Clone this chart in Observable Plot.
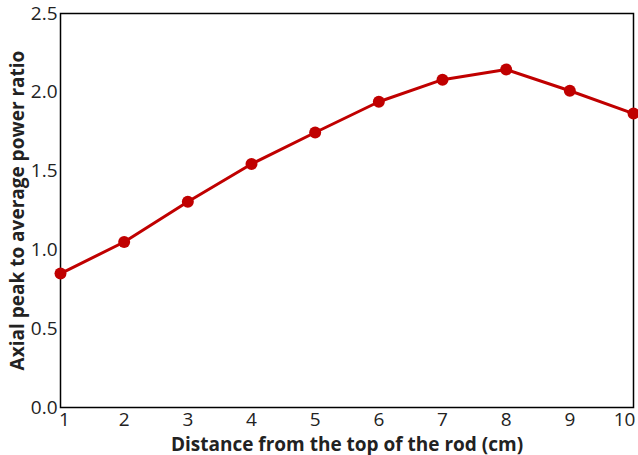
<!DOCTYPE html>
<html><head><meta charset="utf-8">
<script src="https://cdn.jsdelivr.net/npm/d3@7"></script>
<script src="https://cdn.jsdelivr.net/npm/@observablehq/plot@0.6"></script>
<style>
body{margin:0;background:#fff;}
svg{font-family:"Open Sans",sans-serif;}
</style></head><body>
<div id="chart"></div>
<script>
const distance = [1,2,3,4,5,6,7,8,9,10];
const ratio = [0.85,1.05,1.305,1.545,1.745,1.94,2.08,2.145,2.01,1.865];
const yTicks = [0,0.5,1.0,1.5,2.0,2.5];
const xTicks = [1,2,3,4,5,6,7,8,9,10];
const data = distance.map((d,i)=>({d, r: ratio[i]}));
const color = "#c00000";
const chart = Plot.plot({
  width: 638, height: 455,
  marginLeft: 60, marginRight: 5, marginTop: 13, marginBottom: 48,
  style: {fontSize: "19px", fontFamily: "'Open Sans', sans-serif", color: "#222", background: "#fff"},
  x: {domain: [1,10], ticks: xTicks, tickSize: 0, tickPadding: 5, tickFormat: d=>String(d),
      label: "Distance from the top of the rod (cm)", labelAnchor: "center", labelArrow: "none", labelOffset: 43},
  y: {domain: [0,2.5], ticks: yTicks, tickSize: 0, tickPadding: 3, tickFormat: d3.format(".1f"),
      label: "Axial peak to average power ratio", labelAnchor: "center", labelArrow: "none", labelOffset: 50},
  marks: [
    Plot.frame({stroke: "#000", strokeWidth: 1.5}),
    Plot.line(data, {x: "d", y: "r", stroke: color, strokeWidth: 3}),
    Plot.dot(data, {x: "d", y: "r", fill: color, r: 6})
  ]
});
d3.select(chart).selectAll("[aria-label$='axis label'] text").style("font-weight","bold").style("font-size","19px");
d3.select(chart).selectAll("[aria-label='x-axis tick label'] text").filter(function(){ return this.textContent === "10"; }).attr("dx", -9);
d3.select(chart).selectAll("[aria-label='x-axis tick label'] text").filter(function(){ return this.textContent === "1"; }).attr("dx", 4);
document.getElementById("chart").appendChild(chart);
</script></body></html>
